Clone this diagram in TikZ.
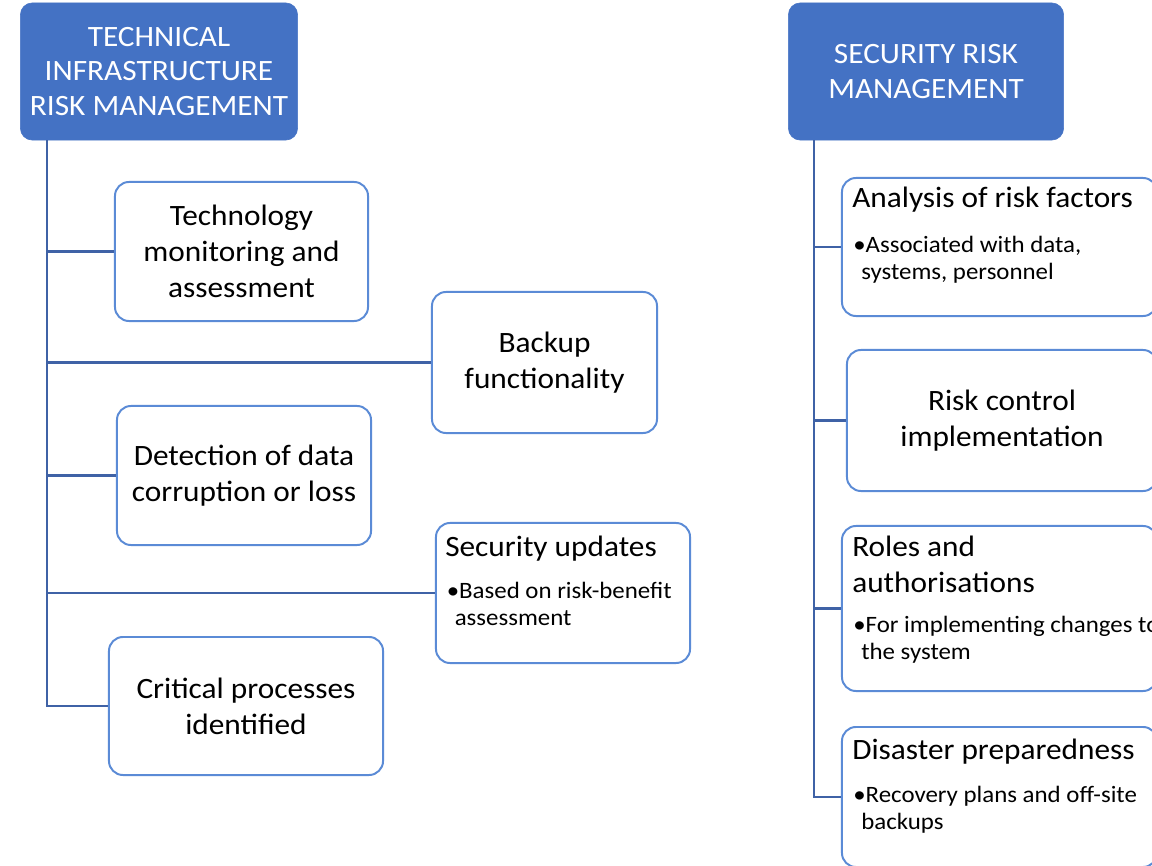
\documentclass[tikz,border=0pt]{standalone}
\usepackage{fontspec}
\setmainfont[FakeStretch=1.06]{Carlito}
\definecolor{headblue}{HTML}{4472C4}
\definecolor{trunkblue}{HTML}{3F62A6}
\definecolor{boxblue}{HTML}{5B8BD6}
\tikzstyle{headblock} = [draw=headblue, fill=headblue, rounded corners=0.3cm, text=white, align=center, inner sep=0pt, minimum width=6.93cm, minimum height=3.43cm, font=\fontsize{21}{24.5}\selectfont]
\tikzstyle{itemblock} = [draw=boxblue, fill=white, line width=1.4pt, rounded corners=0.35cm, align=center, inner sep=0pt, font=\fontsize{21}{25.6}\selectfont]
\tikzstyle{titletext} = [anchor=base west, inner sep=0pt, align=left, font=\fontsize{21}{25.6}\selectfont]
\tikzstyle{bullettext} = [anchor=base west, inner sep=0pt, align=left, font=\fontsize{16.7}{19.2}\selectfont]
\tikzstyle{trunkline} = [draw=trunkblue, line width=2.1pt]
\tikzstyle{branchline} = [draw=trunkblue, line width=1.6pt]

\begin{document}
\begin{tikzpicture}[x=0.025cm, y=-0.025cm]
      \useasboundingbox (0,0) rectangle (1152,866);
      \clip (0,0) rectangle (1152,866);

      % left column
      \node[headblock] (infra) at (159, 71.5) {TECHNICAL\\INFRASTRUCTURE\\RISK MANAGEMENT};
      \coordinate (ltrunk) at (47, 0);
      \node[itemblock, minimum width=6.325cm, minimum height=3.475cm] (tech) at (241.5, 251.5) {Technology\\monitoring and\\assessment};
      \node[itemblock, minimum width=5.625cm, minimum height=3.525cm] (backup) at (544.5, 362.5) {Backup\\functionality};
      \node[itemblock, minimum width=6.35cm, minimum height=3.475cm] (detect) at (244, 475.5) {Detection of data\\corruption or loss};
      \node[itemblock, minimum width=6.35cm, minimum height=3.5cm] (secupd) at (563, 593) {};
      \node[titletext] (secupdtitle) at (445, 556) {Security updates};
      \node[bullettext] (secupdnote) at (446.5, 625) {\textbullet Based on risk-benefit\\\hspace*{0.2cm}assessment};
      \node[itemblock, minimum width=6.85cm, minimum height=3.45cm] (crit) at (246, 706) {Critical processes\\identified};

      % right column
      \node[headblock, minimum width=6.88cm] (secrisk) at (926, 71.5) {SECURITY RISK\\MANAGEMENT};
      \coordinate (rtrunk) at (814, 0);
      \node[itemblock, minimum width=7.875cm, minimum height=3.45cm] (riskfac) at (999.5, 247) {};
      \node[titletext] (riskfactitle) at (852, 208) {Analysis of risk factors};
      \node[bullettext] (riskfacnote) at (853, 279.7) {\textbullet Associated with data,\\\hspace*{0.2cm}systems, personnel};
      \node[itemblock, minimum width=7.75cm, minimum height=3.525cm] (riskctl) at (1002, 420.5) {Risk control\\implementation};
      \node[itemblock, minimum width=7.875cm, minimum height=4.125cm] (roles) at (999.5, 608.5) {};
      \node[titletext] (rolestitle) at (852, 592) {Roles and\\authorisations};
      \node[bullettext] (rolesnote) at (853, 659) {\textbullet For implementing changes to\\\hspace*{0.2cm}the system};
      \node[itemblock, minimum width=7.875cm, minimum height=3.5cm] (disaster) at (999.5, 797) {};
      \node[titletext] (disastertitle) at (852, 759) {Disaster preparedness};
      \node[bullettext] (disasternote) at (853, 829) {\textbullet Recovery plans and off-site\\\hspace*{0.2cm}backups};

      \draw[trunkline] (infra.south -| ltrunk) -- (crit.west -| ltrunk) -- (crit.west);
      \draw[branchline] (tech.west -| ltrunk) -- (tech.west);
      \draw[branchline] (backup.west -| ltrunk) -- (backup.west);
      \draw[branchline] (detect.west -| ltrunk) -- (detect.west);
      \draw[branchline] (secupd.west -| ltrunk) -- (secupd.west);

      \draw[trunkline] (secrisk.south -| rtrunk) -- (disaster.west -| rtrunk) -- (disaster.west);
      \draw[branchline] (riskfac.west -| rtrunk) -- (riskfac.west);
      \draw[branchline] (riskctl.west -| rtrunk) -- (riskctl.west);
      \draw[branchline] (roles.west -| rtrunk) -- (roles.west);
    \end{tikzpicture}
\end{document}
